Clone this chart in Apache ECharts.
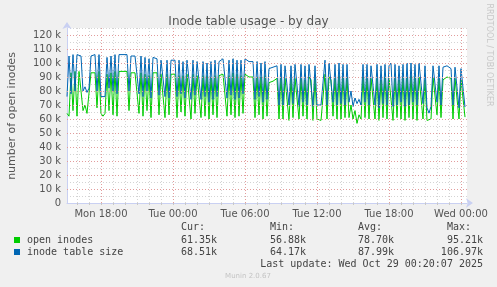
<!DOCTYPE html>
<html><head><meta charset="utf-8">
<script src="https://cdn.jsdelivr.net/npm/echarts@6/dist/echarts.min.js"></script>
<style>html,body{margin:0;padding:0;background:#f0f0f0;}#c{width:497px;height:287px;}</style>
</head><body><div id="c"></div>
<script>
// Time categories: 10-minute slots starting Mon 15:10
const startMinute = 15 * 60 + 10;
const dayNames = ['Mon', 'Tue', 'Wed'];
const slotCount = 201;
const categories = [];
for (let i = 0; i < slotCount; i++) {
  const m = startMinute + 10 * i;
  const d = Math.floor(m / 1440), hh = Math.floor((m % 1440) / 60), mm = m % 60;
  categories.push(dayNames[d] + ' ' + String(hh).padStart(2, '0') + ':' + String(mm).padStart(2, '0'));
}
const tickLabels = ['Mon 18:00', 'Tue 00:00', 'Tue 06:00', 'Tue 12:00', 'Tue 18:00', 'Wed 00:00'];
const yTickLabels = ['0', '10 k', '20 k', '30 k', '40 k', '50 k', '60 k', '70 k', '80 k', '90 k', '100 k', '110 k', '120 k'];
const yMajorValues = [10000, 20000, 30000, 40000, 50000, 60000, 70000, 80000, 90000, 100000, 110000, 120000];

// inode table size (k)
const tableSize = [
 76,105,78,106,80,106,106,105,80,83,79,82,105,106,106,80,106,76,75,76,
 104,82,105,80,106,78,106,106.97,106,105,106,80,105,105,105,106,78,105,76,104,
 80,103,75,104,105,103,77,102,101,76,102,75,102,101,102,76,102,78,101,75,
 102,101,74,102,77,101,100,74,101,76,100,72,101,74,102,76,101,102,103,102,
 75,102,77,103,74,102,75,102,78,103,102,101,102,101,74,101,76,100,72,101,
 74,96,97,97,98,98,70,99,70,98,99,70,98,71,99,100,69,99,72,98,
 70,99,98,69,98,70,69,70,69,102,70,100,99,72,99,70,100,71,99,70,
 99,72,80,69,75,71,74,70,99,72,99,70,98,99,70,99,68,98,71,99,
 70,98,100,69,99,70,98,72,99,69,100,70,100,72,99,70,100,99,71,98,
 68,64.17,69,98,99,72,98,70,97,97,98,97,96,70,97,96,68,96,97,68.51
];
// open inodes (k)
const openInodes = [
 64,62,93,66,94,62,94,93,66,70,64,65,93,93,93,68,94,64,62,64,
 92,66,93,63,94,62,94,95.21,94,94,94,66,93,93,93,93,64,93,62,92,
 66,91,61,93,94,93,63,92,92,61,92,63,92,91,92,61,91,65,91,62,
 92,91,60,92,64,91,90,61,91,62,91,60,90,63,91,61,91,92,92,92,
 62,91,63,93,61,92,62,91,64,92,91,90,90,90,61,90,63,90,60,91,
 62,86,86,87,88,89,60,90,60,89,89,59,89,61,89,90,60,89,62,88,
 60,90,88,59,89,60,60,59,60,92,60,90,88,62,89,60,91,60,90,61,
 90,61,70,60,66,56.88,63,60,90,61,89,60,89,90,60,89,59,88,61,90,
 60,89,90,59,89,61,88,60,90,59,90,61,91,60,90,59,90,89,60,88,
 59,58,60,90,91,63,89,61,88,89,90,90,89,60,89,88,60,88,89,61.35
];

// Legend table
const seriesNames = ['open inodes', 'inode table size'];
const seriesColors = ['#00cc00', '#0066b3'];
const curVals = ['61.35k', '68.51k'];
const minVals = ['56.88k', '64.17k'];
const avgVals = ['78.70k', '87.99k'];
const maxVals = ['95.21k', '106.97k'];
const lastUpdate = 'Last update: Wed Oct 29 00:20:07 2025';

const sans = 'DejaVu Sans';
const mono = 'DejaVu Sans Mono';
const axisCol = '#c9d0f2';
const majorCol = '#e29c9c';
const minorCol = '#d4d4d4';
const isHour = (idx) => categories[idx].endsWith(':00');
const isMajor = (idx) => tickLabels.includes(categories[idx]);

const graphics = [];
const colX = [217, 306, 394, 483];
const heads = ['Cur:', 'Min:', 'Avg:', 'Max:'];
heads.forEach((h, k) => graphics.push({type: 'text', left: colX[k] - 36, top: 222,
  style: {text: h, font: '10px ' + mono, fill: '#444'}}));
seriesNames.forEach((n, r) => {
  const y = 240 + 12 * r;
  graphics.push({type: 'rect', shape: {x: 14, y: y - 3, width: 6, height: 6}, style: {fill: seriesColors[r]}});
  graphics.push({type: 'text', x: 27, y: y, style: {text: n, font: '10px ' + mono, fill: '#444', textVerticalAlign: 'middle'}});
  [curVals[r], minVals[r], avgVals[r], maxVals[r]].forEach((v, k) => graphics.push({type: 'text', x: colX[k], y: y,
    style: {text: v, font: '10px ' + mono, fill: '#444', textAlign: 'right', textVerticalAlign: 'middle'}}));
});
graphics.push({type: 'text', x: 483, y: 264, style: {text: lastUpdate, font: '10px ' + mono, fill: '#444', textAlign: 'right', textVerticalAlign: 'middle'}});
graphics.push({type: 'text', x: 248, y: 276, style: {text: 'Munin 2.0.67', font: '7px ' + sans, fill: '#c4c4c4', textAlign: 'center', textVerticalAlign: 'middle'}});
graphics.push({type: 'text', x: 12, y: 116, rotation: Math.PI / 2, style: {text: 'number of open inodes', font: '11px ' + sans, fill: '#555', textAlign: 'center', textVerticalAlign: 'middle'}});
graphics.push({type: 'text', x: 489, y: 55, rotation: -Math.PI / 2, style: {text: 'RRDTOOL / TOBI OETIKER', font: '8px ' + sans, fill: '#c8c8c8', textAlign: 'center', textVerticalAlign: 'middle'}});

// Major grid lines as mark lines through the axes' scales
const majorLines = yMajorValues.map(v => ({yAxis: v})).concat(tickLabels.map(t => ({xAxis: t})));

const chart = echarts.init(document.getElementById('c'), null, {renderer: 'canvas'});
chart.setOption({
  animation: false,
  backgroundColor: '#f0f0f0',
  title: {text: 'Inode table usage - by day', left: 'center', top: 11,
    textStyle: {fontFamily: sans, fontSize: 12, fontWeight: 'normal', color: '#555'}},
  grid: {left: 67, right: 30, top: 28, bottom: 84, show: true, backgroundColor: '#ffffff', borderWidth: 0},
  xAxis: {type: 'category', data: categories, boundaryGap: false,
    axisLine: {show: true, lineStyle: {color: axisCol}, symbol: ['none', 'arrow'], symbolSize: [7, 7], symbolOffset: [0, 6]},
    axisTick: {show: true, interval: (i) => isHour(i), length: 2, lineStyle: {color: '#c8c8c8'}},
    axisLabel: {interval: (i) => isMajor(i), formatter: (v) => v, fontFamily: sans, fontSize: 10, color: '#555', margin: 6},
    splitLine: {show: true, interval: (i) => isHour(i) && !isMajor(i), lineStyle: {color: minorCol, type: [1, 2]}}},
  yAxis: {type: 'value', min: 0, max: 125000, interval: 5000,
    axisLine: {show: true, lineStyle: {color: axisCol}, symbol: ['none', 'arrow'], symbolSize: [7, 7], symbolOffset: [0, 6]},
    axisTick: {show: false},
    axisLabel: {formatter: (v) => (v % 10000 === 0 && v <= 120000) ? yTickLabels[v / 10000] : '', fontFamily: sans, fontSize: 10, color: '#555', margin: 6},
    splitLine: {show: true, lineStyle: {color: minorCol, type: [1, 2]}}},
  series: [
    {name: 'grid', type: 'line', symbol: 'none', data: [], z: 1, silent: true,
      markLine: {silent: true, symbol: 'none', label: {show: false}, animation: false,
        lineStyle: {color: majorCol, type: [1, 2], width: 1}, emphasis: {disabled: true}, data: majorLines}},
    {name: seriesNames[0], type: 'line', symbol: 'none',
      data: openInodes.map(v => v * 1000), lineStyle: {color: seriesColors[0], width: 1}, z: 3},
    {name: seriesNames[1], type: 'line', symbol: 'none',
      data: tableSize.map(v => v * 1000), lineStyle: {color: seriesColors[1], width: 1}, z: 4}
  ],
  graphic: graphics
});
</script>
</body></html>
